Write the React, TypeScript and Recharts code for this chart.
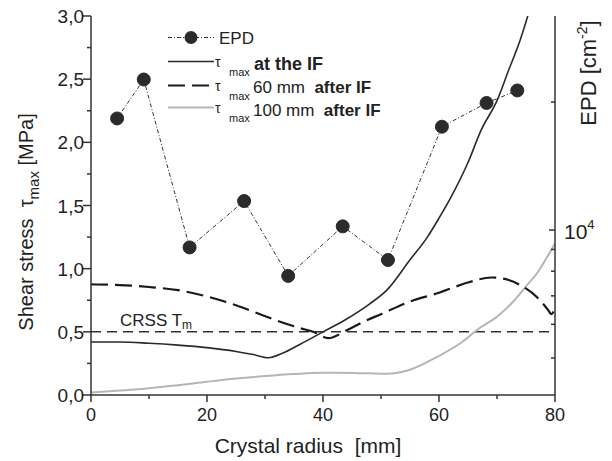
import React from "react";
import { ComposedChart, Line, XAxis, YAxis, ReferenceLine } from "recharts";

// EPD measurements (right axis, log scale)
const epdRadius = [4.5, 9.1, 17.0, 26.4, 34.0, 43.4, 51.2, 60.5, 68.2, 73.5];
const epdValues = [18300, 22600, 9100, 11700, 7800, 10200, 8500, 17500, 19900, 21300];

// tau_max at the interface
const ifRadius = [0, 5, 10, 15, 20, 25, 28, 30.6, 33, 36, 40, 44, 48, 51, 55, 58, 60, 62, 65, 67.3, 70, 72, 74, 75.3, 76.5];
const ifStress = [0.42, 0.42, 0.41, 0.395, 0.375, 0.345, 0.32, 0.295, 0.33, 0.4, 0.5, 0.6, 0.72, 0.83, 1.07, 1.25, 1.4, 1.56, 1.84, 2.1, 2.33, 2.57, 2.81, 3.0, 3.2];

// tau_max 60 mm after IF
const r60Radius = [0, 5, 10, 15, 20, 25, 28, 32, 36, 38.3, 40.9, 44, 47, 50, 55, 60, 63, 65, 69, 72, 74, 77, 78.7, 79.4, 80];
const r60Stress = [0.875, 0.87, 0.855, 0.83, 0.78, 0.71, 0.66, 0.59, 0.53, 0.5, 0.45, 0.51, 0.58, 0.64, 0.74, 0.81, 0.86, 0.89, 0.93, 0.91, 0.87, 0.77, 0.68, 0.64, 0.69];

// tau_max 100 mm after IF
const r100Radius = [0, 5, 10, 15, 20, 25, 30, 35, 40, 45, 51, 55, 60, 64, 67, 70, 73, 75, 77, 79, 80];
const r100Stress = [0.02, 0.035, 0.053, 0.078, 0.105, 0.13, 0.15, 0.166, 0.176, 0.175, 0.168, 0.2, 0.31, 0.42, 0.53, 0.62, 0.75, 0.86, 0.97, 1.12, 1.2];

const crss = 0.5;

const xTicks = [0, 10, 20, 30, 40, 50, 60, 70, 80];
const xTopTicks = [0, 5, 10, 15, 20, 25, 30, 35, 40, 45, 50, 55, 60, 65, 70, 75, 80];
const yLeftTicks = [0, 0.25, 0.5, 0.75, 1, 1.25, 1.5, 1.75, 2, 2.25, 2.5, 2.75, 3];
const yRightTicks = [5000, 6000, 7000, 8000, 9000, 10000, 20000];

const epdData = epdRadius.map((r, i) => ({ r, v: epdValues[i] }));
const ifData = ifRadius.map((r, i) => ({ r, v: ifStress[i] }));
const r60Data = r60Radius.map((r, i) => ({ r, v: r60Stress[i] }));
const r100Data = r100Radius.map((r, i) => ({ r, v: r100Stress[i] }));

const W = 612;
const H = 461;
const PLOT = { left: 91, right: 555, top: 16, bottom: 395 };
const AXIS = "#333";
const TEXT = "#222";
const FONT = '"Liberation Sans", Arial, sans-serif';
const NB = "\u00a0";

const LeftTick = (props: any) => {
  const { y, payload } = props;
  const v = payload.value as number;
  const major = Math.abs(v * 2 - Math.round(v * 2)) < 1e-6;
  return (
    <g>
      <line x1={PLOT.left - (major ? 8 : 4)} x2={PLOT.left} y1={y} y2={y} stroke={AXIS} strokeWidth={1.5} />
      {major && (
        <text x={PLOT.left - 7} y={y + 7} textAnchor="end" fontSize={19} fill={TEXT}>
          {v.toFixed(1).replace(".", ",")}
        </text>
      )}
    </g>
  );
};

const BottomTick = (props: any) => {
  const { x, payload } = props;
  const v = payload.value as number;
  const major = v % 20 === 0;
  return (
    <g>
      <line x1={x} x2={x} y1={PLOT.bottom} y2={PLOT.bottom + (major ? 7 : 4)} stroke={AXIS} strokeWidth={1.5} />
      {major && (
        <text x={x} y={PLOT.bottom + 26} textAnchor="middle" fontSize={18} fill={TEXT}>
          {v}
        </text>
      )}
    </g>
  );
};

const TopTick = (props: any) => {
  const { x, payload } = props;
  const v = payload.value as number;
  const len = v % 10 === 0 ? 5 : 4;
  return <line x1={x} x2={x} y1={PLOT.top} y2={PLOT.top + len} stroke={AXIS} strokeWidth={1.5} />;
};

const RightTick = (props: any) => {
  const { y, payload } = props;
  const v = payload.value as number;
  const major = v === 10000;
  return (
    <g>
      <line x1={PLOT.right - (major ? 6 : 4)} x2={PLOT.right} y1={y} y2={y} stroke={AXIS} strokeWidth={1.5} />
      {major && (
        <text x={PLOT.right + 9} y={y + 9} fontSize={21} fill={TEXT}>
          10
          <tspan dy={-10} fontSize={13}>4</tspan>
        </text>
      )}
    </g>
  );
};

function LegendOverlay() {
  const x1 = 168;
  const x2 = 214;
  return (
    <svg
      width={W}
      height={H}
      style={{ position: "absolute", left: 0, top: 0, pointerEvents: "none" }}
      fontFamily={FONT}
    >
      {/* legend */}
      <line x1={x1} x2={x2} y1={37.5} y2={37.5} stroke="#333" strokeWidth={1} strokeDasharray="4 2 1 2" />
      <circle cx={191} cy={37.5} r={6.5} fill="#2b2b2b" />
      <text x={219} y={43.5} fontSize={17} fill={TEXT}>EPD</text>

      <line x1={x1} x2={x2} y1={61.5} y2={61.5} stroke="#2a2a2a" strokeWidth={1.6} />
      <text x={215} y={67} fontSize={14} fill={TEXT}>τ</text>
      <text x={229} y={76} fontSize={11} fill={TEXT}>max</text>
      <text x={254} y={70} fontSize={18} fontWeight="bold" fill={TEXT}>at the IF</text>

      <line x1={x1} x2={x2} y1={85.5} y2={85.5} stroke="#1a1a1a" strokeWidth={2.2} strokeDasharray="17 7" />
      <text x={215} y={91} fontSize={14} fill={TEXT}>τ</text>
      <text x={229} y={100} fontSize={11} fill={TEXT}>max</text>
      <text x={253} y={93} fontSize={17} fill={TEXT}>{`60 mm${NB}${NB}`}<tspan fontWeight="bold">after IF</tspan></text>

      <line x1={x1} x2={x2} y1={107.5} y2={107.5} stroke="#b5b5b5" strokeWidth={2} />
      <text x={215} y={113} fontSize={14} fill={TEXT}>τ</text>
      <text x={229} y={122} fontSize={11} fill={TEXT}>max</text>
      <text x={253} y={116} fontSize={17} fill={TEXT}>{`100 mm${NB}${NB}`}<tspan fontWeight="bold">after IF</tspan></text>

      {/* CRSS label */}
      <text x={120} y={326} fontSize={17} fill={TEXT}>CRSS T</text>
      <text x={182} y={329} fontSize={12} fill={TEXT}>m</text>

      {/* axis titles */}
      <text x={308} y={453} textAnchor="middle" fontSize={21} fill={TEXT}>{`Crystal radius${NB}${NB}[mm]`}</text>
      <text transform="translate(33,222) rotate(-90)" textAnchor="middle" fontSize={20} fill={TEXT}>
        {`Shear stress${NB}${NB}τ`}<tspan fontSize={15} dy={6}>max</tspan><tspan dy={-6}>{`${NB}[MPa]`}</tspan>
      </text>
      <text transform="translate(596,73) rotate(-90)" textAnchor="middle" fontSize={22} fill={TEXT}>
        {"EPD [cm"}<tspan fontSize={14} dy={-9}>-2</tspan><tspan dy={9}>]</tspan>
      </text>
    </svg>
  );
}

export default function App() {
  return (
    <div style={{ position: "absolute", left: 0, top: 0, width: W, height: H, background: "#fff", fontFamily: FONT }}>
      <ComposedChart width={W} height={H} margin={{ top: PLOT.top, right: 0, bottom: 0, left: 0 }}>
        <XAxis
          xAxisId="bottom"
          dataKey="r"
          type="number"
          domain={[0, 80]}
          ticks={xTicks}
          interval={0}
          height={H - PLOT.bottom}
          stroke={AXIS}
          strokeWidth={1.5}
          tickLine={false}
          tick={<BottomTick />}
        />
        <XAxis
          xAxisId="top"
          orientation="top"
          dataKey="r"
          type="number"
          domain={[0, 80]}
          ticks={xTopTicks}
          interval={0}
          height={0}
          stroke={AXIS}
          strokeWidth={1.5}
          tickLine={false}
          tick={<TopTick />}
        />
        <YAxis
          yAxisId="left"
          type="number"
          domain={[0, 3]}
          allowDataOverflow
          ticks={yLeftTicks}
          interval={0}
          width={PLOT.left}
          stroke={AXIS}
          strokeWidth={1.5}
          tickLine={false}
          tick={<LeftTick />}
        />
        <YAxis
          yAxisId="right"
          orientation="right"
          type="number"
          scale="log"
          domain={[4091, 31880]}
          allowDataOverflow
          ticks={yRightTicks}
          interval={0}
          width={W - PLOT.right}
          stroke={AXIS}
          strokeWidth={1.5}
          tickLine={false}
          tick={<RightTick />}
        />
        <ReferenceLine xAxisId="bottom" yAxisId="left" y={crss} stroke="#333" strokeWidth={1.5} strokeDasharray="10 6" />
        <Line
          xAxisId="bottom"
          yAxisId="left"
          data={r100Data}
          dataKey="v"
          type="monotone"
          stroke="#b5b5b5"
          strokeWidth={2}
          dot={false}
          activeDot={false}
          isAnimationActive={false}
        />
        <Line
          xAxisId="bottom"
          yAxisId="left"
          data={r60Data}
          dataKey="v"
          type="monotone"
          stroke="#1a1a1a"
          strokeWidth={2.2}
          strokeDasharray="17 7"
          dot={false}
          activeDot={false}
          isAnimationActive={false}
        />
        <Line
          xAxisId="bottom"
          yAxisId="left"
          data={ifData}
          dataKey="v"
          type="monotone"
          stroke="#2a2a2a"
          strokeWidth={1.6}
          dot={false}
          activeDot={false}
          isAnimationActive={false}
        />
        <Line
          xAxisId="bottom"
          yAxisId="right"
          data={epdData}
          dataKey="v"
          type="linear"
          stroke="#333"
          strokeWidth={1}
          strokeDasharray="4 2 1 2"
          dot={{ r: 6.5, fill: "#2b2b2b", stroke: "#2b2b2b", strokeWidth: 1, strokeDasharray: "" }}
          activeDot={false}
          isAnimationActive={false}
        />
      </ComposedChart>
      <LegendOverlay />
    </div>
  );
}
